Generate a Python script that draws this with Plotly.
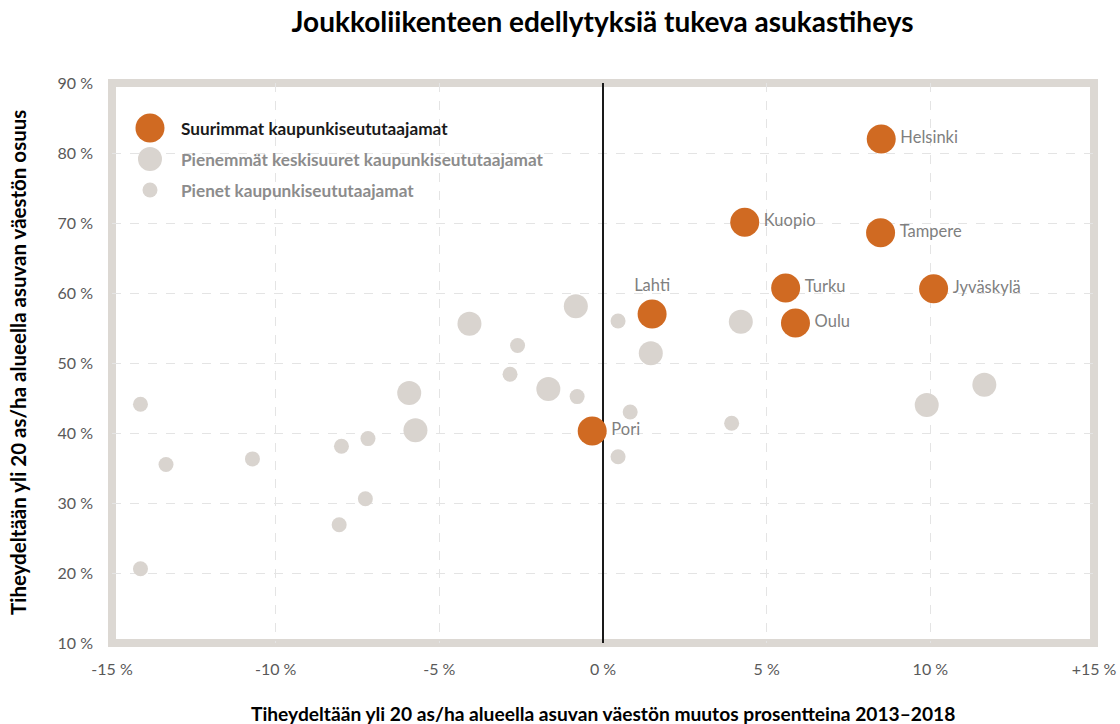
import plotly.graph_objects as go

# Suurimmat kaupunkiseututaajamat
big_names = ["Helsinki", "Kuopio", "Tampere", "Turku", "Jyväskylä", "Oulu", "Lahti", "Pori"]
big_x = [8.5, 4.33, 8.48, 5.58, 10.1, 5.88, 1.5, -0.33]
big_y = [82.0, 70.1, 68.6, 60.7, 60.6, 55.7, 57.0, 40.3]

# Pienemmät keskisuuret kaupunkiseututaajamat
mid_x = [-0.83, -4.08, 1.46, -1.67, -5.92, -5.73, 4.21, 9.89, 11.65]
mid_y = [58.1, 55.6, 51.4, 46.3, 45.7, 40.4, 55.9, 44.0, 46.9]

# Pienet kaupunkiseututaajamat
small_x = [0.46, -2.61, -2.84, -0.79, -14.13, 0.83, 0.46, -7.18, -7.99,
           -10.71, -13.35, -7.26, -8.06, -14.13, 3.93]
small_y = [56.0, 52.5, 48.4, 45.2, 44.1, 43.0, 36.6, 39.2, 38.1,
           36.3, 35.5, 30.6, 26.9, 20.6, 41.4]

x_ticks = [-15, -10, -5, 0, 5, 10, 15]
x_ticktext = ["-15 %", "-10 %", "-5 %", "0 %", "5 %", "10 %", "+15 %"]
y_ticks = [10, 20, 30, 40, 50, 60, 70, 80, 90]
y_ticktext = ["%d %%" % v for v in y_ticks]

legend_names = ["Suurimmat kaupunkiseututaajamat",
                "Pienemmät keskisuuret kaupunkiseututaajamat",
                "Pienet kaupunkiseututaajamat"]

ORANGE = "#D06A22"
GREY = "#D9D4CF"
FONT = "Lato, 'Open Sans', sans-serif"

fig = go.Figure()
fig.add_trace(go.Scatter(x=small_x, y=small_y, mode="markers",
                         marker=dict(size=15, color=GREY), showlegend=False))
fig.add_trace(go.Scatter(x=mid_x, y=mid_y, mode="markers",
                         marker=dict(size=24, color=GREY), showlegend=False))
positions = ["top center" if n == "Lahti" else "middle right" for n in big_names]
fig.add_trace(go.Scatter(x=big_x, y=big_y, mode="markers+text",
                         text=big_names, textposition=positions,
                         textfont=dict(size=16.5, color="#7F7F7F", family=FONT),
                         marker=dict(size=29, color=ORANGE), showlegend=False))

# frame + hand-made legend
shapes = [dict(type="rect", xref="paper", yref="paper", x0=0, x1=1, y0=0, y1=1,
               line=dict(color="#DCD8D3", width=8), layer="below")]
leg_sizes = [29, 24, 15]
leg_colors = [ORANGE, GREY, GREY]
leg_text_colors = ["#1A1A1A", "#8C8C8C", "#8C8C8C"]
annotations = []
for i, name in enumerate(legend_names):
    yy = 0.9196 - i * 31 / 560
    r = leg_sizes[i] / 2
    shapes.append(dict(type="circle", xref="paper", yref="paper",
                       xsizemode="pixel", ysizemode="pixel",
                       xanchor=38 / 982.5, yanchor=yy,
                       x0=-r, x1=r, y0=-r, y1=r,
                       fillcolor=leg_colors[i], line=dict(width=0)))
    annotations.append(dict(text="<b>%s</b>" % name, xref="paper", yref="paper",
                            x=67 / 982.5, y=yy, xanchor="left", yanchor="middle",
                            showarrow=False,
                            font=dict(size=17.2, color=leg_text_colors[i], family=FONT)))

annotations.append(dict(text="<b>Tiheydeltään yli 20 as/ha alueella asuvan väestön osuus</b>",
                        xref="paper", yref="paper", x=0, y=0.5, xshift=-94,
                        xanchor="center", yanchor="middle",
                        textangle=-90, showarrow=False,
                        font=dict(size=20.5, color="#000000", family=FONT)))
annotations.append(dict(text="<b>Tiheydeltään yli 20 as/ha alueella asuvan väestön muutos prosentteina 2013–2018</b>",
                        xref="paper", yref="paper", x=0.5, y=0, yshift=-70,
                        xanchor="center", yanchor="middle",
                        showarrow=False,
                        font=dict(size=19.2, color="#000000", family=FONT)))

fig.update_layout(
    width=1120, height=724,
    margin=dict(l=112, r=25.5, t=83, b=81),
    paper_bgcolor="white", plot_bgcolor="white",
    title=dict(text="<b>Joukkoliikenteen edellytyksiä tukeva asukastiheys</b>",
               x=602.5 / 1120, xanchor="center", y=1 - 22 / 724, yanchor="middle",
               font=dict(size=28, color="#000000", family=FONT)),
    font=dict(family=FONT),
    shapes=shapes, annotations=annotations,
)
fig.update_xaxes(range=[-15, 15], tickvals=x_ticks, ticktext=x_ticktext,
                 showgrid=True, gridcolor="#E4E4E4", griddash="dash", gridwidth=1,
                 zeroline=True, zerolinecolor="#1A1A1A", zerolinewidth=1.5,
                 showline=False, ticks="", ticklabelstandoff=15, automargin=False,
                 tickfont=dict(size=16, color="#595959", family=FONT))
fig.update_yaxes(range=[10, 90], tickvals=y_ticks, ticktext=y_ticktext,
                 showgrid=True, gridcolor="#E4E4E4", griddash="dash", gridwidth=1,
                 zeroline=False, showline=False, ticks="", ticklabelstandoff=18,
                 automargin=False,
                 tickfont=dict(size=16, color="#595959", family=FONT))

# the default page has an 8px body margin; drop it so the 1120x724 figure fits the window
page_fix = ("document.body.style.margin='0';"
            "document.body.style.overflow='hidden';"
            "document.documentElement.style.overflow='hidden';")
fig.write_html("out.html", post_script=page_fix, config={"displayModeBar": False})
